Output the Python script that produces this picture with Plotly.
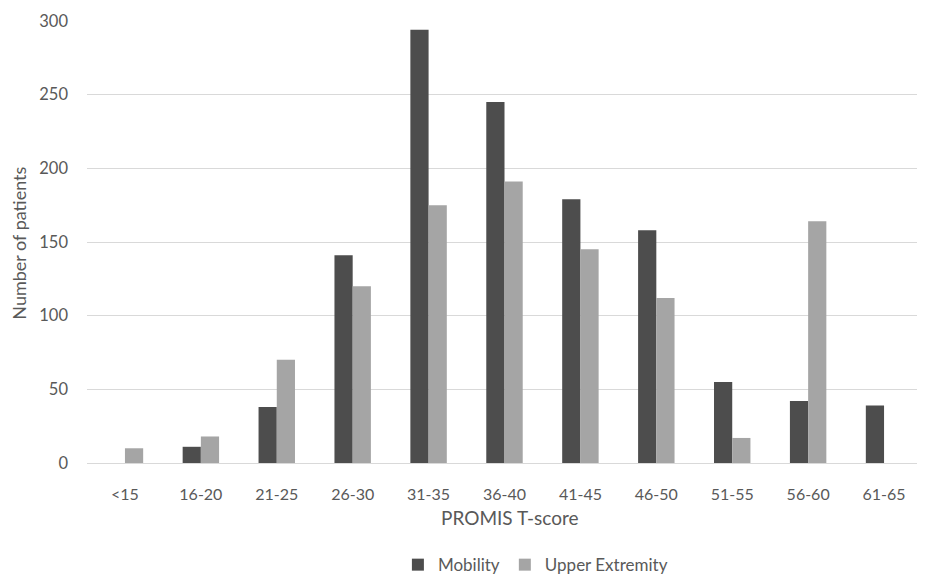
import plotly.graph_objects as go

categories = ["<15", "16-20", "21-25", "26-30", "31-35", "36-40", "41-45", "46-50", "51-55", "56-60", "61-65"]
mobility = [0, 11, 38, 141, 294, 245, 179, 158, 55, 42, 39]
upper_extremity = [10, 18, 70, 120, 175, 191, 145, 112, 17, 164, 0]
y_ticks = [0, 50, 100, 150, 200, 250, 300]

font_family = "Lato, 'Open Sans', sans-serif"
text_color = "#595959"

fig = go.Figure()
fig.add_trace(go.Bar(
    x=categories, y=mobility, name="Mobility",
    marker=dict(color="#4d4d4d", line=dict(width=0)),
))
fig.add_trace(go.Bar(
    x=categories, y=upper_extremity, name="Upper Extremity",
    marker=dict(color="#a5a5a5", line=dict(width=0)),
))

# the page body adds an 8px offset, so the figure is 8px smaller and shifted
fig.update_layout(
    width=917, height=570,
    margin=dict(l=79, r=3, t=13, b=115, autoexpand=False),
    paper_bgcolor="white", plot_bgcolor="white",
    barmode="group", bargap=0.52, bargroupgap=0,
    font=dict(family=font_family, size=16, color=text_color),
    showlegend=True,
    legend=dict(
        orientation="h", x=0.537, xanchor="center", y=-0.231, yanchor="middle",
        font=dict(size=17, color=text_color), itemwidth=30,
        traceorder="normal",
    ),
    annotations=[
        dict(text="Number of patients", xref="paper", yref="paper",
             x=-0.081, y=0.497, xanchor="center", yanchor="middle",
             textangle=-90, showarrow=False,
             font=dict(size=18, color=text_color)),
        dict(text="PROMIS T-score", xref="paper", yref="paper",
             x=0.507, y=-0.124, xanchor="center", yanchor="middle",
             showarrow=False, font=dict(size=19, color=text_color)),
    ],
)
fig.update_xaxes(
    showgrid=False, showline=True, linecolor="#d9d9d9", linewidth=1,
    ticks="", ticklabelstandoff=17, automargin=False,
    tickfont=dict(size=16, color=text_color),
)
fig.update_yaxes(
    range=[0, 300], tickvals=y_ticks,
    showgrid=True, gridcolor="#d9d9d9", gridwidth=1,
    zeroline=False, showline=False, ticks="", ticklabelstandoff=18,
    automargin=False,
    tickfont=dict(size=16.5, color=text_color),
)

fig.write_html("out.html")
